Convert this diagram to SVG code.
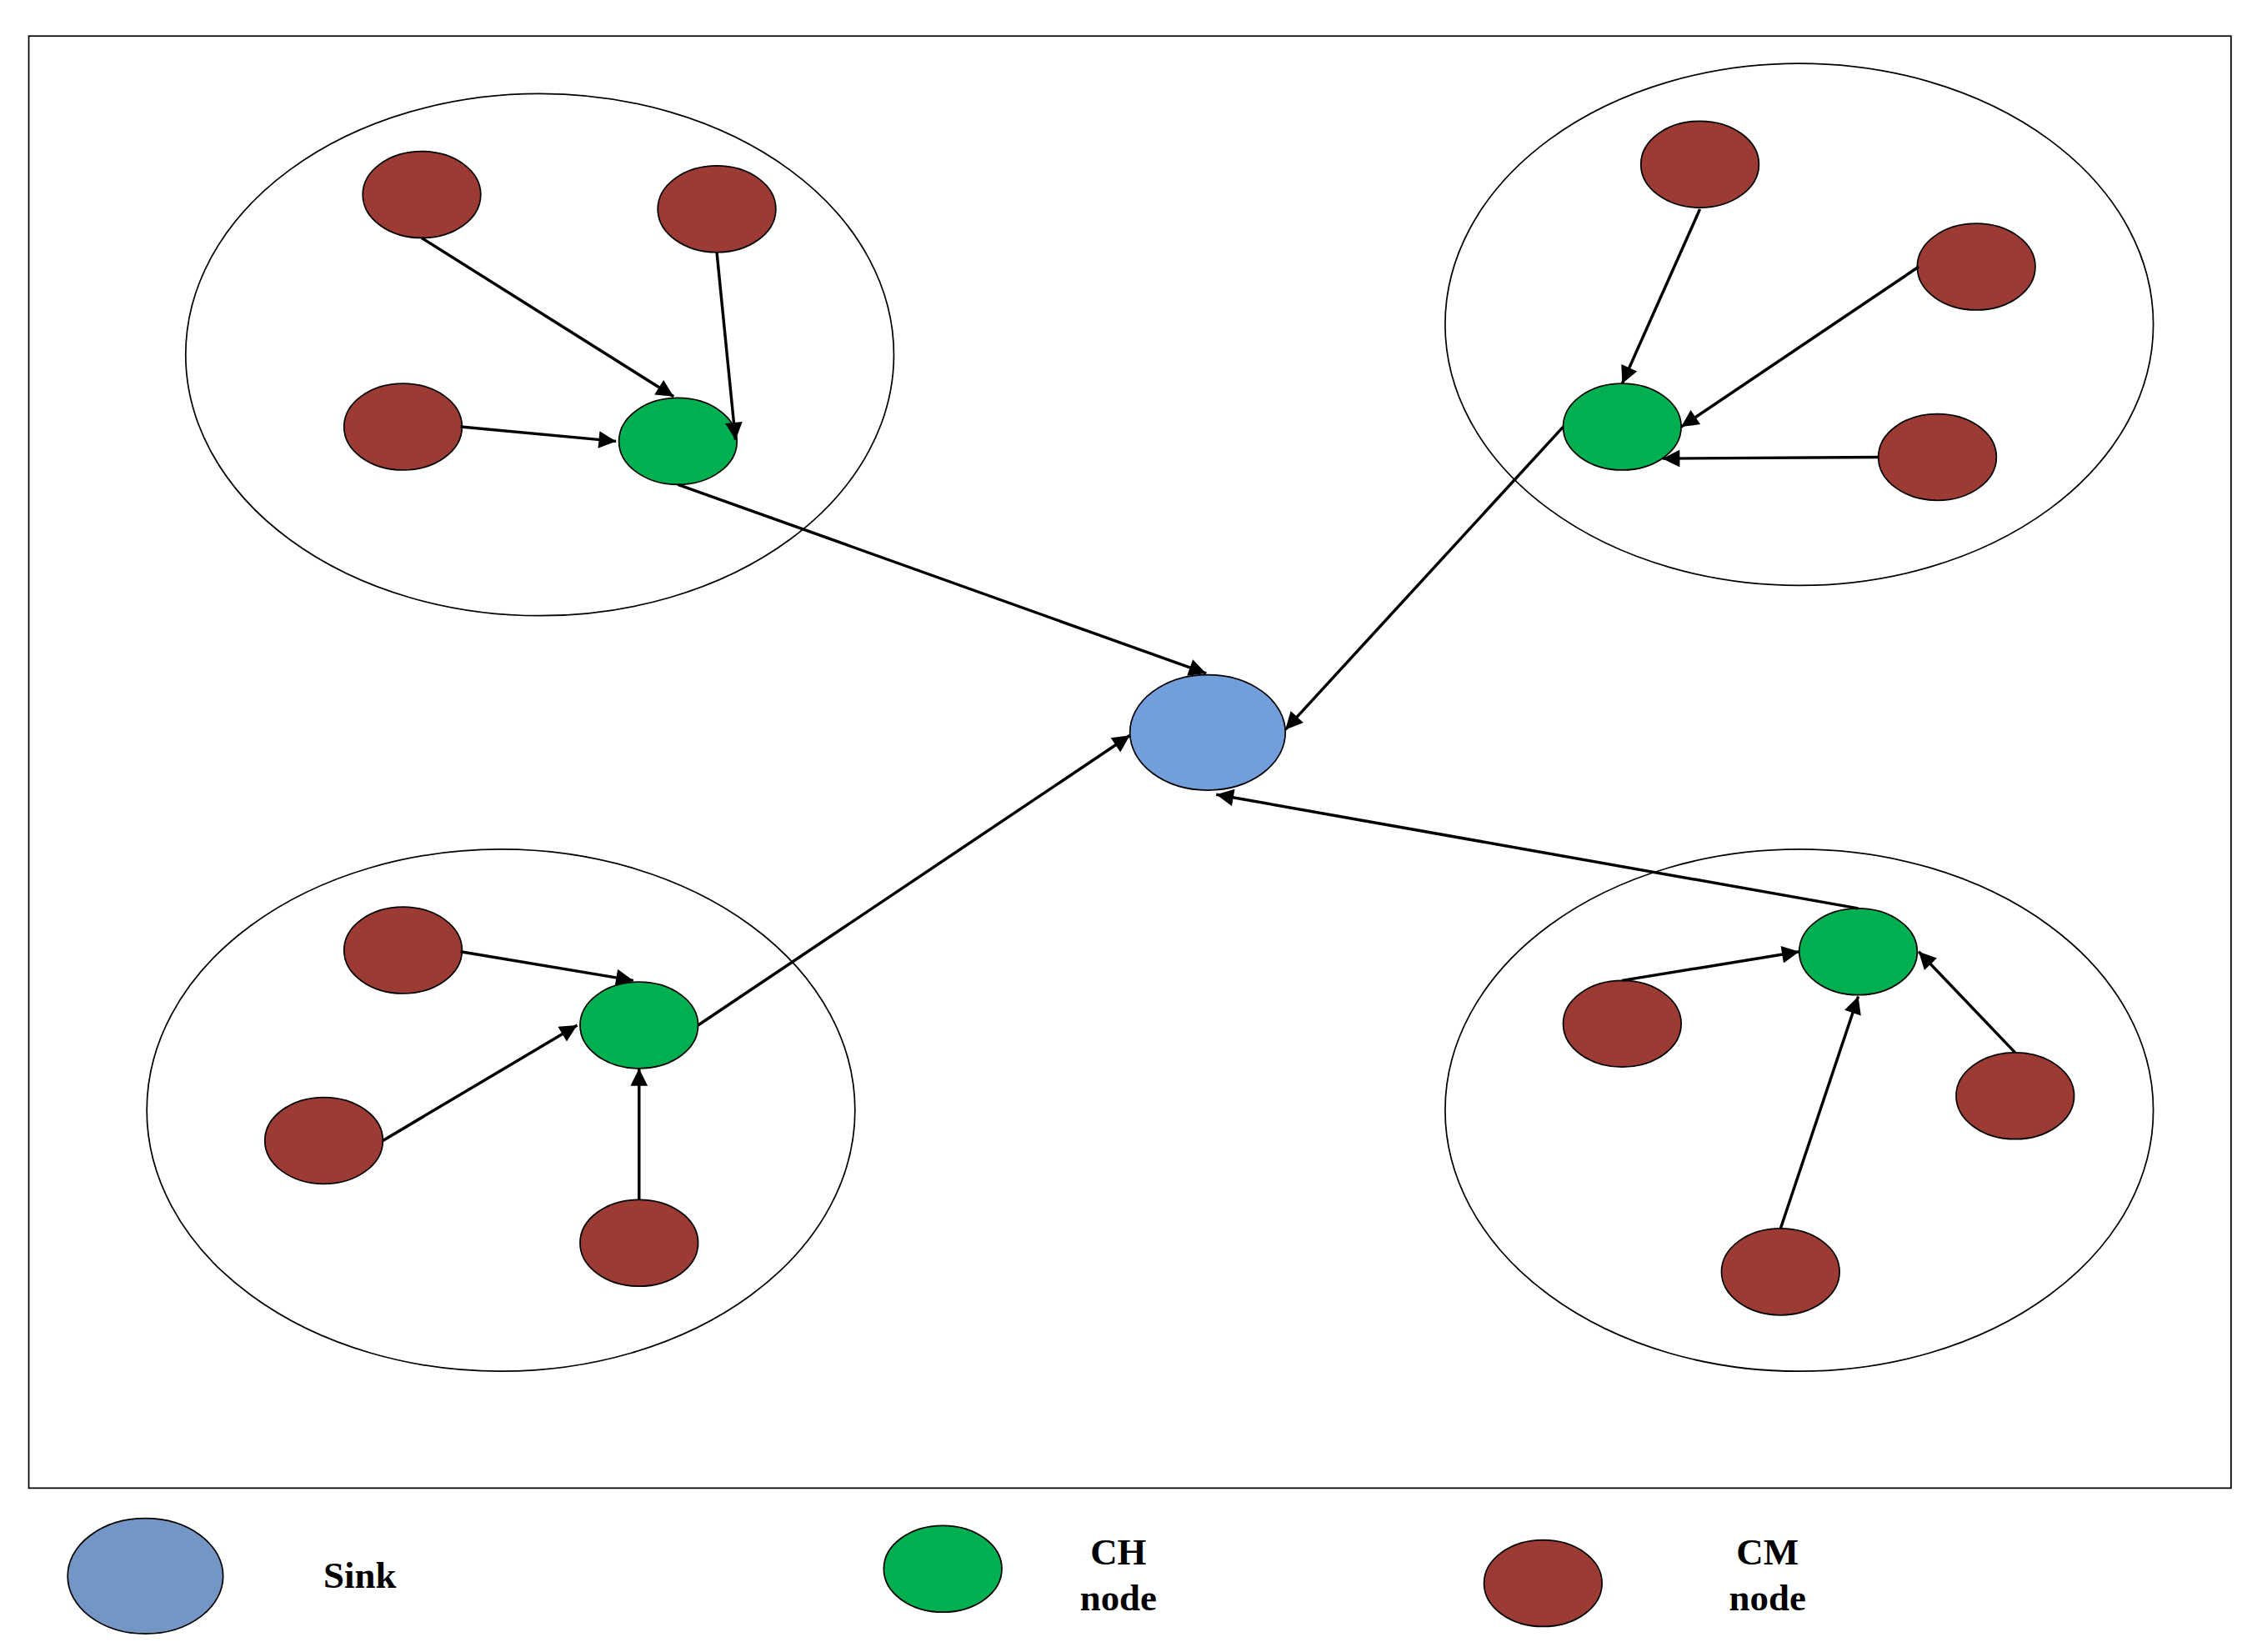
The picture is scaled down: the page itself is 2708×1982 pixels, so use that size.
<svg xmlns="http://www.w3.org/2000/svg" width="2708" height="1982" viewBox="0 0 2708 1982">
<style>
.cl{fill:none;stroke:#000;stroke-width:1}
.cm{fill:#9b3b34;stroke:#000;stroke-width:1}
.ch{fill:#00b050;stroke:#000;stroke-width:1}
.sk{fill:#729fdb;stroke:#000;stroke-width:1}
.ar{stroke:#000;stroke-width:2;fill:none;marker-end:url(#a)}
.t{font-family:"Liberation Serif",serif;font-weight:bold;font-size:26px;text-anchor:middle}
</style>
<defs><marker id="a" viewBox="0 0 10 10" refX="10" refY="5" markerWidth="8" markerHeight="6" orient="auto"><path d="M0,0L10,5L0,10z" fill="#000"/></marker></defs>
<rect width="2708" height="1982" fill="#fff"/>
<g transform="scale(1.727,1.73)">
<rect x="20" y="25" width="1530" height="1007" class="cl"/>
<g id="clusters">
<ellipse cx="375" cy="246" rx="246" ry="181" class="cl"/>
<ellipse cx="1250" cy="225" rx="246" ry="181" class="cl"/>
<ellipse cx="348" cy="770" rx="246" ry="181" class="cl"/>
<ellipse cx="1250" cy="770" rx="246" ry="181" class="cl"/>
</g>
<g id="sink"><ellipse cx="839" cy="508" rx="54" ry="40" class="sk"/></g>
<g id="tl"><ellipse cx="293" cy="135" rx="41" ry="30" class="cm"/><ellipse cx="498" cy="145" rx="41" ry="30" class="cm"/><ellipse cx="280" cy="296" rx="41" ry="30" class="cm"/><ellipse cx="471" cy="306" rx="41" ry="30" class="ch"/></g>
<g id="tr"><ellipse cx="1181" cy="114" rx="41" ry="30" class="cm"/><ellipse cx="1373" cy="185" rx="41" ry="30" class="cm"/><ellipse cx="1346" cy="317" rx="41" ry="30" class="cm"/><ellipse cx="1127" cy="296" rx="41" ry="30" class="ch"/></g>
<g id="bl"><ellipse cx="280" cy="659" rx="41" ry="30" class="cm"/><ellipse cx="225" cy="791" rx="41" ry="30" class="cm"/><ellipse cx="444" cy="862" rx="41" ry="30" class="cm"/><ellipse cx="444" cy="711" rx="41" ry="30" class="ch"/></g>
<g id="br"><ellipse cx="1127" cy="710" rx="41" ry="30" class="cm"/><ellipse cx="1400" cy="760" rx="41" ry="30" class="cm"/><ellipse cx="1237" cy="882" rx="41" ry="30" class="cm"/><ellipse cx="1291" cy="660" rx="41" ry="30" class="ch"/></g>
<g id="connectors">
<line x1="293" y1="165" x2="468" y2="275" class="ar"/>
<line x1="498" y1="175" x2="511" y2="305" class="ar"/>
<line x1="320" y1="296" x2="428" y2="306" class="ar"/>
<line x1="471" y1="336" x2="838" y2="467" class="ar"/>
<line x1="1181" y1="145" x2="1127" y2="266" class="ar"/>
<line x1="1333" y1="185" x2="1168" y2="296" class="ar"/>
<line x1="1305" y1="317" x2="1155" y2="318" class="ar"/>
<line x1="1086" y1="296" x2="893" y2="506" class="ar"/>
<line x1="320" y1="660" x2="440" y2="680" class="ar"/>
<line x1="266" y1="791" x2="401" y2="711" class="ar"/>
<line x1="444" y1="832" x2="444" y2="741" class="ar"/>
<line x1="485" y1="711" x2="785" y2="510" class="ar"/>
<line x1="1127" y1="680" x2="1250" y2="660" class="ar"/>
<line x1="1400" y1="730" x2="1333" y2="660" class="ar"/>
<line x1="1237" y1="852" x2="1291" y2="691" class="ar"/>
<line x1="1291" y1="630" x2="845" y2="551" class="ar"/>
</g>
<g id="legend">
<ellipse cx="101" cy="1093" rx="54" ry="40" fill="#7396c4" stroke="#000"/>
<text x="250" y="1101" class="t">Sink</text>
<ellipse cx="655" cy="1088" rx="41" ry="30" class="ch"/>
<text x="777" y="1085" class="t">CH</text><text x="777" y="1117" class="t">node</text>
<ellipse cx="1072" cy="1098" rx="41" ry="30" class="cm"/>
<text x="1228" y="1085" class="t">CM</text><text x="1228" y="1117" class="t">node</text>
</g>
</g>
</svg>
